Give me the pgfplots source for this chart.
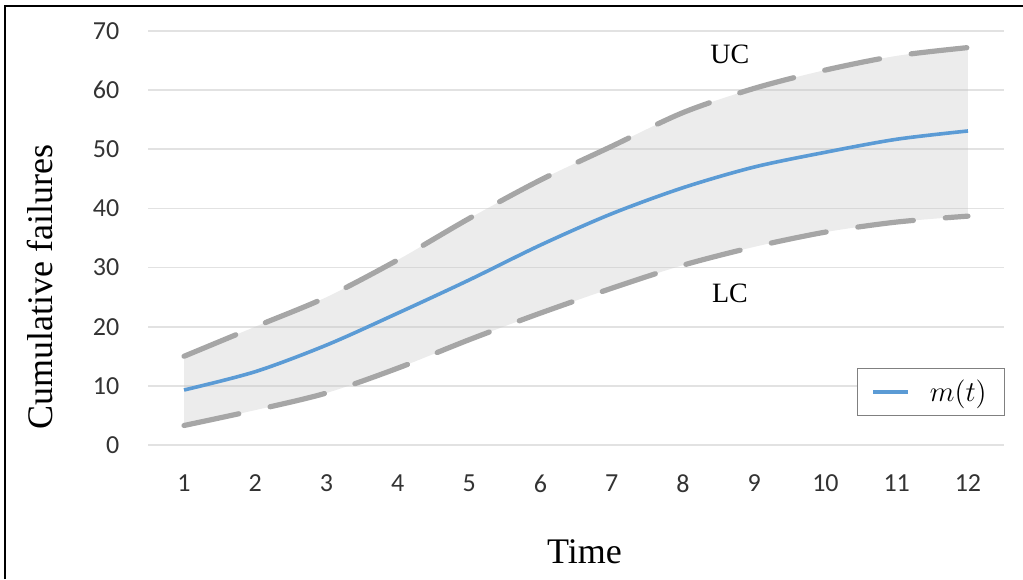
\documentclass[border=0pt]{standalone}
\usepackage{fontspec}
\usepackage{pgfplots}
\usepackage{pgfplotstable}
\pgfplotsset{compat=1.18}
\usepgfplotslibrary{fillbetween}
\setmainfont{Liberation Serif}
\newfontfamily\tickfont{Carlito}

\definecolor{mblue}{HTML}{5B9BD5}
\definecolor{bandgray}{HTML}{A6A6A6}
\definecolor{bandfill}{HTML}{C8C8C8}
\definecolor{gridgray}{HTML}{E2E2E2}
\definecolor{ticktext}{HTML}{333333}
\definecolor{legframe}{HTML}{808080}

% time, mean value function m(t), upper and lower confidence limits
\pgfplotstableread{
t  m     uc    lc
1  9.3   15.0  3.3
2  12.4  20.0  5.9
3  16.9  25.0  8.8
4  22.3  31.3  13.0
5  27.9  38.3  17.8
6  33.8  44.8  22.3
7  39.1  50.5  26.5
8  43.5  56.2  30.4
9  47.0  60.3  33.5
10 49.5  63.4  36.0
11 51.7  65.8  37.7
12 53.1  67.2  38.7
}\failtable

\begin{document}
\begin{tikzpicture}
\begin{axis}[
  set layers,
  at={(74.2pt,67pt)}, anchor=south west,
  scale only axis, width=427.6pt, height=207pt,
  xmin=0.5, xmax=12.5, ymin=0, ymax=70,
  xtick={1,...,12}, ytick={0,10,...,70},
  axis line style={draw=none},
  major tick length=0pt,
  ymajorgrids=true, xmajorgrids=false,
  grid style={gridgray, line width=0.8pt},
  /pgf/number format/assume math mode=true,
  ticklabel style={font=\tickfont\fontsize{13}{15}\selectfont, text=ticktext},
  yticklabel style={xshift=-11pt},
  xticklabel style={yshift=-11.5pt},
  xlabel={Time},
  xlabel style={at={(axis description cs:0.51,-0.258)}, anchor=center, font=\fontsize{18}{21}\selectfont},
  ylabel={Cumulative failures},
  ylabel style={at={(axis description cs:-0.127,0.382)}, anchor=center, font=\fontsize{18}{21}\selectfont},
  legend style={at={(1.002,0.186)}, anchor=north east, draw=legframe, line width=0.6pt,
    font=\fontsize{15}{18}\selectfont, inner xsep=7pt, inner ysep=3.5pt},
  legend image code/.code={\draw[mblue, line width=1.8pt] (0pt,0pt) -- (17.5pt,0pt);},
  legend cell align=left,
]
% mean value function
\addplot[mblue, line width=1.8pt, smooth] table[x=t, y=m] {\failtable};
\addlegendentry{\hspace{8pt}$m(t)$}
% confidence limits
\addplot[name path=uc, bandgray, line width=2.6pt, line cap=round,
  dash pattern=on 28pt off 16pt, smooth] table[x=t, y=uc] {\failtable};
\addplot[name path=lc, bandgray, line width=2.6pt, line cap=round,
  dash pattern=on 28pt off 16pt, smooth] table[x=t, y=lc] {\failtable};
% confidence band, drawn on the pre main layer beneath the curves
\addplot[draw=none, fill=bandfill, fill opacity=0.35] fill between[of=uc and lc];
\node[font=\fontsize{14}{16}\selectfont] at (axis cs:8.66,66) {UC};
\node[font=\fontsize{14}{16}\selectfont] at (axis cs:8.66,25.7) {LC};
\end{axis}
% frame along the top and left edges
\draw[line width=1pt] (2.5pt,0pt) -- (2.5pt,286.5pt) -- (511.5pt,286.5pt);
\pgfresetboundingbox
\path[use as bounding box] (0,0) rectangle (511.5pt,289.5pt);
\end{tikzpicture}
\end{document}
